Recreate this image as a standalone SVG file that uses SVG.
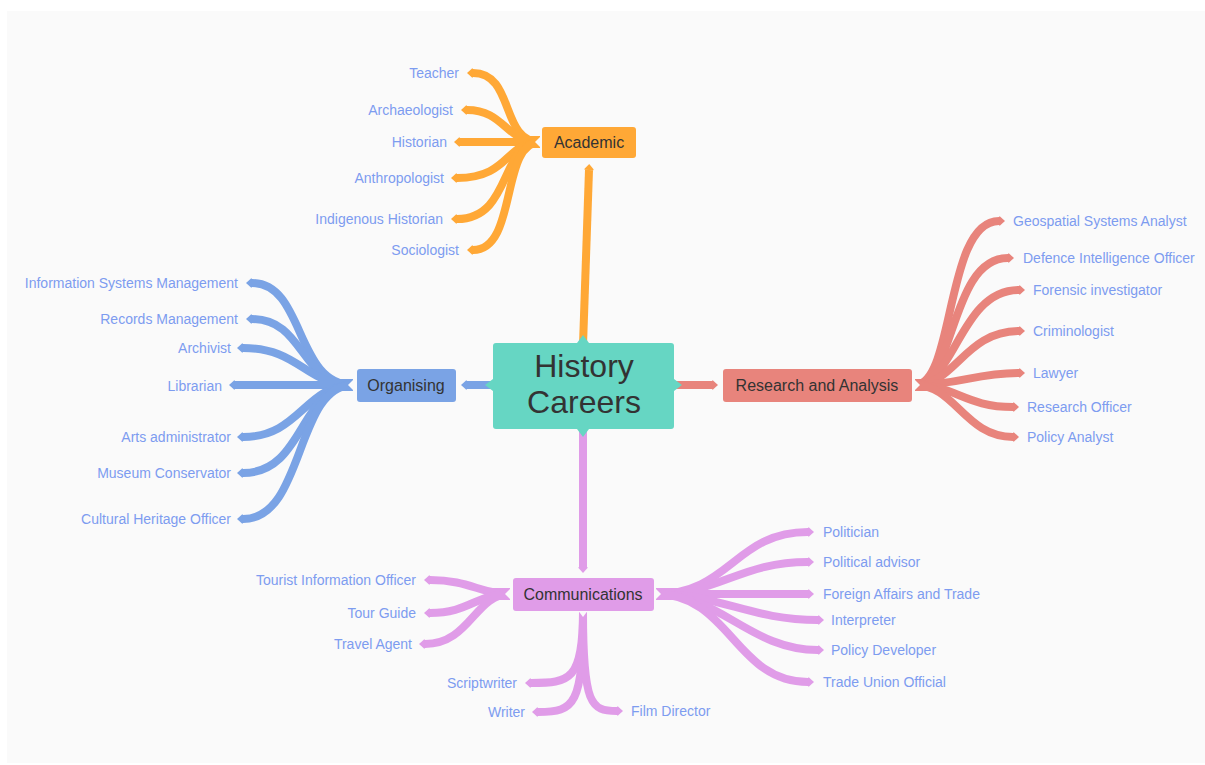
<svg xmlns="http://www.w3.org/2000/svg" width="1205" height="765" viewBox="0 0 1205 765">
<style>
.leaf{font-family:"Liberation Sans",Arial,sans-serif;font-size:14px;fill:#7d9cf0}
.lbl{font-family:"Liberation Sans",Arial,sans-serif;font-size:16px;fill:#333;text-anchor:middle}
.ctr{font-family:"Liberation Sans",Arial,sans-serif;font-size:32px;fill:#333;text-anchor:middle}
.end{text-anchor:end}
.c{fill:none;stroke-width:8;stroke-linecap:butt}
.root{fill:none;stroke-width:12}
.o{stroke:#ffa836}.b{stroke:#7aa3e5}.r{stroke:#e8847c}.p{stroke:#e09ce8}
.notch{fill:#fafafa}
</style>
<defs>
<marker id="mo" markerUnits="userSpaceOnUse" markerWidth="12" markerHeight="12" refX="0" refY="6" orient="auto" overflow="visible"><path d="M0,1.5 L1,1.5 L6,6 L1,10.5 L0,10.5 Z" fill="#ffa836"/></marker>
<marker id="mb" markerUnits="userSpaceOnUse" markerWidth="12" markerHeight="12" refX="0" refY="6" orient="auto" overflow="visible"><path d="M0,1.5 L1,1.5 L6,6 L1,10.5 L0,10.5 Z" fill="#7aa3e5"/></marker>
<marker id="mr" markerUnits="userSpaceOnUse" markerWidth="12" markerHeight="12" refX="0" refY="6" orient="auto" overflow="visible"><path d="M0,1.5 L1,1.5 L6,6 L1,10.5 L0,10.5 Z" fill="#e8847c"/></marker>
<marker id="mp" markerUnits="userSpaceOnUse" markerWidth="12" markerHeight="12" refX="0" refY="6" orient="auto" overflow="visible"><path d="M0,1.5 L1,1.5 L6,6 L1,10.5 L0,10.5 Z" fill="#e09ce8"/></marker>
</defs>
<rect x="0" y="0" width="1205" height="765" fill="#ffffff"/>
<rect x="7" y="11" width="1198" height="752" fill="#fafafa"/>

<g id="connectors">
  <!-- center to main topics -->
  <path class="c o" d="M583,345 L589,170" marker-end="url(#mo)"/>
  <path class="c p" d="M583,429 L583,567" marker-end="url(#mp)"/>
  <path class="c b" d="M493,385 L467,385" marker-end="url(#mb)"/>
  <path class="c r" d="M675,385 L712,385" marker-end="url(#mr)"/>

  <!-- Academic -->
  <path class="root o" d="M540,142 L522,142"/>
  <path class="c o" d="M540,142 C500,142 515,73 473,73" marker-end="url(#mo)"/>
  <path class="c o" d="M540,142 C505,142 505,110 467,110" marker-end="url(#mo)"/>
  <path class="c o" d="M540,142 L460,142" marker-end="url(#mo)"/>
  <path class="c o" d="M540,142 C505,142 510,178 457,178" marker-end="url(#mo)"/>
  <path class="c o" d="M540,142 C500,142 512,219 457,219" marker-end="url(#mo)"/>
  <path class="c o" d="M540,142 C500,142 518,250 473,250" marker-end="url(#mo)"/>
  <polygon class="notch" points="541,136 541,148 535,142"/>

  <!-- Organising -->
  <path class="root b" d="M353,385 L333,385"/>
  <path class="c b" d="M353,385 C295,385 305,283 252,283" marker-end="url(#mb)"/>
  <path class="c b" d="M353,385 C300,385 305,319 252,319" marker-end="url(#mb)"/>
  <path class="c b" d="M353,385 C305,385 300,348 243,348" marker-end="url(#mb)"/>
  <path class="c b" d="M353,385 L235,385" marker-end="url(#mb)"/>
  <path class="c b" d="M353,385 C305,385 300,437 243,437" marker-end="url(#mb)"/>
  <path class="c b" d="M353,385 C300,385 305,473 243,473" marker-end="url(#mb)"/>
  <path class="c b" d="M353,385 C295,385 305,519 243,519" marker-end="url(#mb)"/>
  <polygon class="notch" points="354,379 354,391 348,385"/>

  <!-- Research and Analysis -->
  <path class="root r" d="M915,385 L935,385"/>
  <path class="c r" d="M915,385 C955,385 945,221 999,221" marker-end="url(#mr)"/>
  <path class="c r" d="M915,385 C955,385 950,258 1008,258" marker-end="url(#mr)"/>
  <path class="c r" d="M915,385 C955,385 960,290 1019,290" marker-end="url(#mr)"/>
  <path class="c r" d="M915,385 C955,385 965,331 1019,331" marker-end="url(#mr)"/>
  <path class="c r" d="M915,385 C960,385 975,373 1019,373" marker-end="url(#mr)"/>
  <path class="c r" d="M915,385 C955,385 965,407 1013,407" marker-end="url(#mr)"/>
  <path class="c r" d="M915,385 C955,385 965,437 1013,437" marker-end="url(#mr)"/>
  <polygon class="notch" points="914,379 914,391 920,385"/>

  <!-- Communications right -->
  <path class="root p" d="M656,594 L680,594"/>
  <path class="c p" d="M656,594 C730,594 735,532 808,532" marker-end="url(#mp)"/>
  <path class="c p" d="M656,594 C720,594 740,562 808,562" marker-end="url(#mp)"/>
  <path class="c p" d="M656,594 L808,594" marker-end="url(#mp)"/>
  <path class="c p" d="M656,594 C720,594 750,620 818,620" marker-end="url(#mp)"/>
  <path class="c p" d="M656,594 C720,594 750,650 818,650" marker-end="url(#mp)"/>
  <path class="c p" d="M656,594 C730,594 735,682 808,682" marker-end="url(#mp)"/>
  <polygon class="notch" points="655,588 655,600 661,594"/>

  <!-- Communications left -->
  <path class="root p" d="M510,594 L492,594"/>
  <path class="c p" d="M510,594 C480,594 470,580 430,580" marker-end="url(#mp)"/>
  <path class="c p" d="M510,594 C475,594 470,613 430,613" marker-end="url(#mp)"/>
  <path class="c p" d="M510,594 C475,594 470,644 425,644" marker-end="url(#mp)"/>
  <polygon class="notch" points="511,588 511,600 505,594"/>

  <!-- Communications bottom -->
  <path class="c p" d="M583,612 L583,640"/>
  <path class="c p" d="M583,612 C583,680 570,683 531,683" marker-end="url(#mp)"/>
  <path class="c p" d="M583,612 C583,705 575,712 538,712" marker-end="url(#mp)"/>
  <path class="c p" d="M583,612 C583,705 591,711 617,711" marker-end="url(#mp)"/>
  <polygon class="notch" points="578.5,611 587.5,611 583,617"/>
</g>

<g id="center">
  <rect x="493" y="343" width="181" height="86" rx="3" fill="#66d6c3"/>
  <path d="M577,343 L583,335 L589,343 Z M577,429 L583,437 L589,429 Z M493,379 L485,385 L493,391 Z M674,379 L682,385 L674,391 Z" fill="#66d6c3"/>
  <text class="ctr" x="584" y="377">History</text>
  <text class="ctr" x="584" y="413">Careers</text>
</g>

<g id="academic">
  <rect x="542" y="127" width="94" height="31" rx="3" fill="#ffa836"/>
  <text class="lbl" x="589" y="148">Academic</text>
</g>
<g id="organising">
  <rect x="357" y="369" width="99" height="33" rx="3" fill="#7aa3e5"/>
  <text class="lbl" x="406" y="391">Organising</text>
</g>
<g id="research">
  <rect x="723" y="369" width="189" height="33" rx="3" fill="#e8847c"/>
  <text class="lbl" x="817" y="391">Research and Analysis</text>
</g>
<g id="communications">
  <rect x="513" y="578" width="141" height="33" rx="3" fill="#e09ce8"/>
  <text class="lbl" x="583" y="600">Communications</text>
</g>

<g id="leaf-teacher"><text class="leaf end" x="459" y="78">Teacher</text></g>
<g id="leaf-archaeologist"><text class="leaf end" x="453" y="115">Archaeologist</text></g>
<g id="leaf-historian"><text class="leaf end" x="447" y="147">Historian</text></g>
<g id="leaf-anthropologist"><text class="leaf end" x="444" y="183">Anthropologist</text></g>
<g id="leaf-indigenous-historian"><text class="leaf end" x="443" y="224">Indigenous Historian</text></g>
<g id="leaf-sociologist"><text class="leaf end" x="459" y="255">Sociologist</text></g>

<g id="leaf-info-systems"><text class="leaf end" x="238" y="288">Information Systems Management</text></g>
<g id="leaf-records"><text class="leaf end" x="238" y="324">Records Management</text></g>
<g id="leaf-archivist"><text class="leaf end" x="231" y="353">Archivist</text></g>
<g id="leaf-librarian"><text class="leaf end" x="222" y="391">Librarian</text></g>
<g id="leaf-arts-admin"><text class="leaf end" x="231" y="442">Arts administrator</text></g>
<g id="leaf-museum"><text class="leaf end" x="231" y="478">Museum Conservator</text></g>
<g id="leaf-cultural-heritage"><text class="leaf end" x="231" y="524">Cultural Heritage Officer</text></g>

<g id="leaf-geospatial"><text class="leaf" x="1013" y="226">Geospatial Systems Analyst</text></g>
<g id="leaf-defence"><text class="leaf" x="1023" y="263">Defence Intelligence Officer</text></g>
<g id="leaf-forensic"><text class="leaf" x="1033" y="295">Forensic investigator</text></g>
<g id="leaf-criminologist"><text class="leaf" x="1033" y="336">Criminologist</text></g>
<g id="leaf-lawyer"><text class="leaf" x="1033" y="378">Lawyer</text></g>
<g id="leaf-research-officer"><text class="leaf" x="1027" y="412">Research Officer</text></g>
<g id="leaf-policy-analyst"><text class="leaf" x="1027" y="442">Policy Analyst</text></g>

<g id="leaf-politician"><text class="leaf" x="823" y="537">Politician</text></g>
<g id="leaf-political-advisor"><text class="leaf" x="823" y="567">Political advisor</text></g>
<g id="leaf-foreign-affairs"><text class="leaf" x="823" y="599">Foreign Affairs and Trade</text></g>
<g id="leaf-interpreter"><text class="leaf" x="831" y="625">Interpreter</text></g>
<g id="leaf-policy-developer"><text class="leaf" x="831" y="655">Policy Developer</text></g>
<g id="leaf-trade-union"><text class="leaf" x="823" y="687">Trade Union Official</text></g>

<g id="leaf-tourist-info"><text class="leaf end" x="416" y="585">Tourist Information Officer</text></g>
<g id="leaf-tour-guide"><text class="leaf end" x="416" y="618">Tour Guide</text></g>
<g id="leaf-travel-agent"><text class="leaf end" x="412" y="649">Travel Agent</text></g>
<g id="leaf-scriptwriter"><text class="leaf end" x="517" y="688">Scriptwriter</text></g>
<g id="leaf-writer"><text class="leaf end" x="525" y="717">Writer</text></g>
<g id="leaf-film-director"><text class="leaf" x="631" y="716">Film Director</text></g>
</svg>
